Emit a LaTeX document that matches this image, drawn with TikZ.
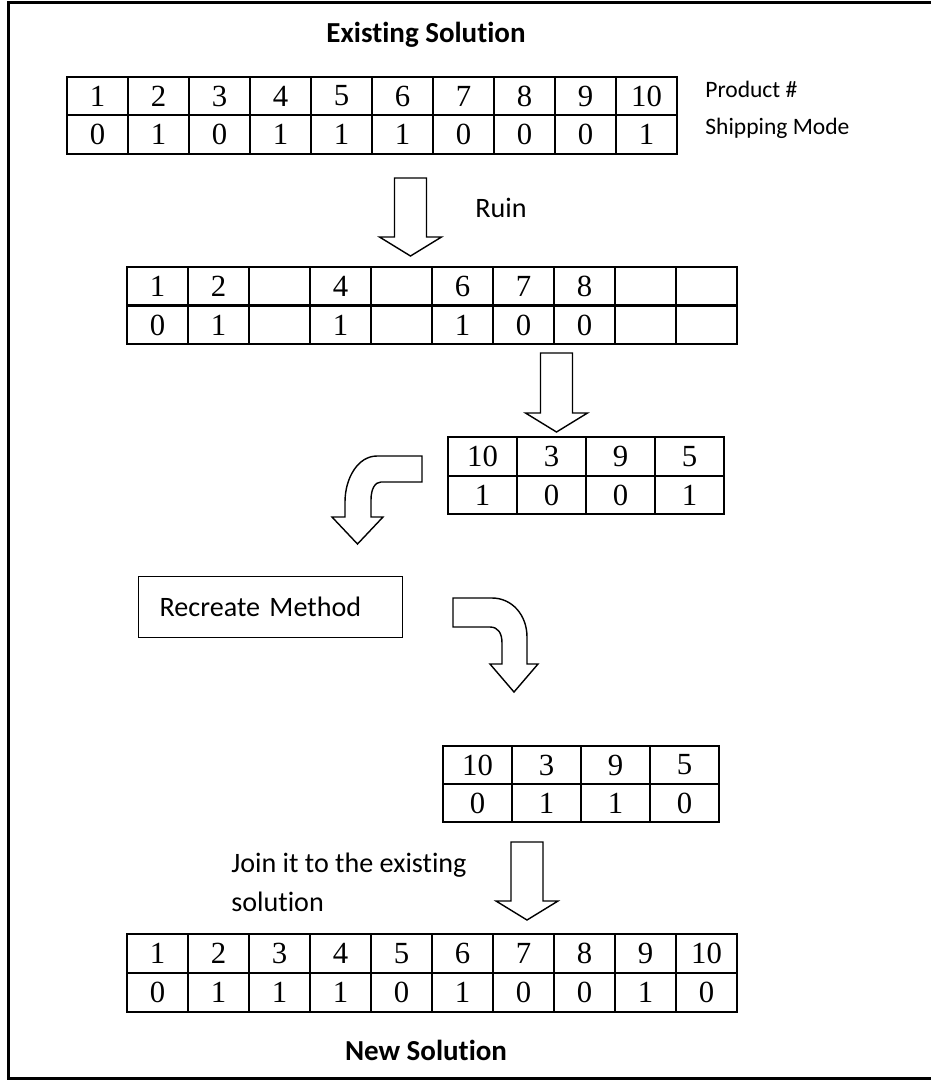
\documentclass[tikz,border=0pt]{standalone}
\usepackage{fontspec}
\setmainfont{Carlito}[Ligatures={NoCommon}]
\newfontfamily\tabfont{Liberation Serif}
\usepackage{tikz}
\usetikzlibrary{positioning}

% block arrow pointing down: centre x, top y, tip y
\newcommand{\blockdown}[3]{%
  \draw[blockarrow] ({#1-16},#2) -- ({#1+16},#2) -- ({#1+16},{#3-19}) -- ({#1+31},{#3-19})
    -- (#1,#3) -- ({#1-31},{#3-19}) -- ({#1-16},{#3-19}) -- cycle;}

\begin{document}
\begin{tikzpicture}[
  x=0.02cm, y=-0.02cm,
  cell/.style={draw, line width=1.1pt, minimum width=1.22cm, minimum height=0.77cm, inner sep=0pt, font=\tabfont\fontsize{17.5}{20}\selectfont},
  widecell/.style={cell, minimum width=1.38cm},
  blockarrow/.style={draw, line width=0.8pt, fill=white, line join=miter},
  heading/.style={font=\bfseries\fontsize{16.5}{20}\selectfont, inner sep=0pt},
  label/.style={font=\fontsize{16}{20}\selectfont, inner sep=0pt, anchor=base west},
  sidelabel/.style={font=\fontsize{13.4}{16}\selectfont, inner sep=0pt, anchor=base west},
  methodbox/.style={draw, line width=0.8pt, minimum width=5.28cm, minimum height=1.22cm, text width=4.44cm, inner xsep=0.42cm, align=left, font=\fontsize{16}{20}\selectfont}
]
\clip (0,0) rectangle (931,1080);

% --- frame ---
\draw[line width=1.7pt] (945,1078.5) -- (8.5,1078.5) -- (8.5,2.5) -- (945,2.5);

% --- headings ---
\node[heading] (oldsol) at (426,35) {Existing Solution};
\node[heading] (newsol) at (426,1050) {New Solution};

% --- existing solution ---
\foreach \v [count=\i] in {1,2,3,4,5,6,7,8,9,10}
  \node[cell] (ea\i) at ({67+61*(\i-0.5)},96) {\v};
\foreach \v [count=\i] in {0,1,0,1,1,1,0,0,0,1}
  \node[cell] (eb\i) at ({67+61*(\i-0.5)},134.5) {\v};
\node[sidelabel] (prodlbl) at (705,97) {Product \#};
\node[sidelabel] (modelbl) at (705,134) {Shipping Mode};

% --- ruin ---
\blockdown{410.5}{178}{256}
\node[label] (ruin) at (475,217) {Ruin};

\foreach \v [count=\i] in {1,2,{},4,{},6,7,8,{},{}}
  \node[cell] (ra\i) at ({127+61*(\i-0.5)},286) {\v};
\foreach \v [count=\i] in {0,1,{},1,{},1,0,0,{},{}}
  \node[cell] (rb\i) at ({127+61*(\i-0.5)},325) {\v};

% --- removed products ---
\blockdown{556.5}{353}{432}
\foreach \v [count=\i] in {10,3,9,5}
  \node[widecell] (da\i) at ({448+69*(\i-0.5)},456.5) {\v};
\foreach \v [count=\i] in {1,0,0,1}
  \node[widecell] (db\i) at ({448+69*(\i-0.5)},495) {\v};

% curved arrow to the recreate method
\draw[blockarrow] (422,456) -- (377,456) .. controls (358,456) and (345,478) .. (345,502)
  -- (345,517) -- (332,517) -- (357.5,544) -- (383,517) -- (371,517) -- (371,500)
  .. controls (371,489) and (375,482) .. (381,482) -- (422,482) -- cycle;

\node[methodbox, anchor=north west] (recreate) at (138,576) {Recreate Method};

% curved arrow out of the recreate method
\draw[blockarrow] (453,598) -- (492,598) .. controls (512,598) and (527,615) .. (527,637)
  -- (527,664) -- (538,664) -- (514,692) -- (490,664) -- (502,664) -- (502,643)
  .. controls (502,633) and (498,627) .. (490,627) -- (453,627) -- cycle;

% --- recreated products ---
\foreach \v [count=\i] in {10,3,9,5}
  \node[widecell] (ca\i) at ({443+69*(\i-0.5)},765) {\v};
\foreach \v [count=\i] in {0,1,1,0}
  \node[widecell] (cb\i) at ({443+69*(\i-0.5)},803) {\v};

% --- join ---
\blockdown{527}{842}{920}
\node[label] (join1) at (231,872) {Join it to the existing};
\node[label] (join2) at (231,911) {solution};

\foreach \v [count=\i] in {1,2,3,4,5,6,7,8,9,10}
  \node[cell] (na\i) at ({127+61*(\i-0.5)},953.5) {\v};
\foreach \v [count=\i] in {0,1,1,1,0,1,0,0,1,0}
  \node[cell] (nb\i) at ({127+61*(\i-0.5)},992.5) {\v};

\end{tikzpicture}
\end{document}
